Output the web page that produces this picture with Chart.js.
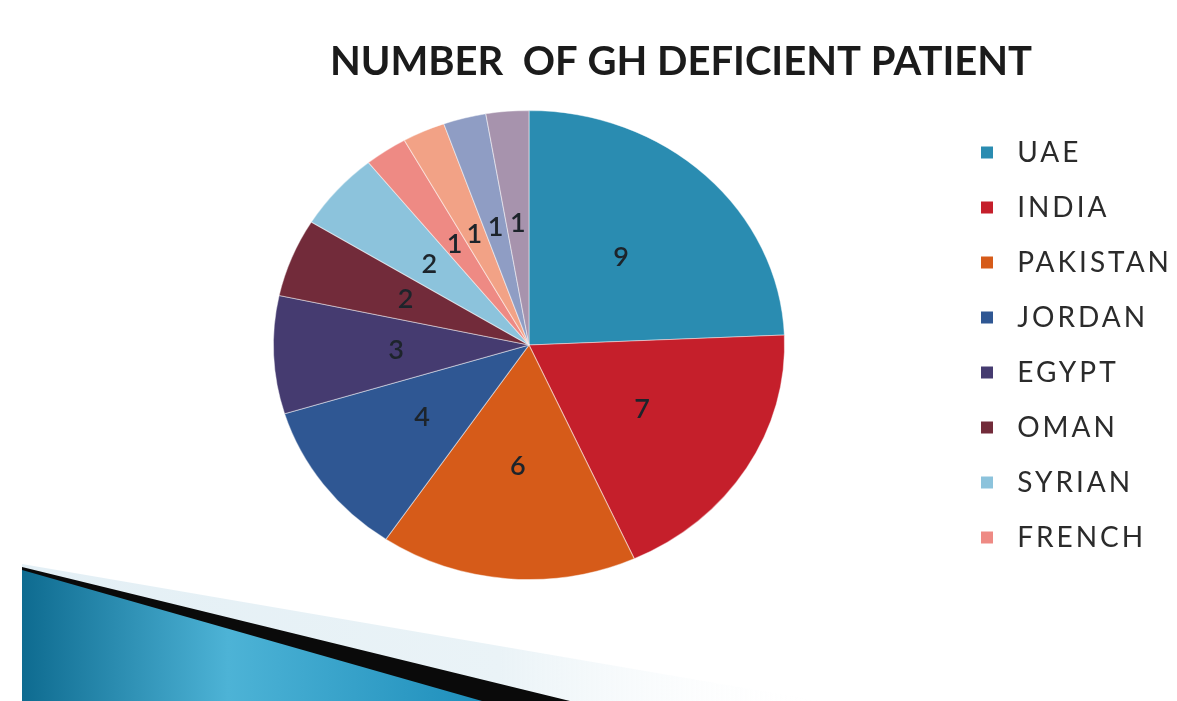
<!DOCTYPE html>
<html>
<head>
<meta charset="utf-8">
<script src="https://cdn.jsdelivr.net/npm/chart.js@4.4.1/dist/chart.umd.min.js"></script>
<style>
  html, body { margin: 0; background: #fff; }
  #wrap { width: 1177px; height: 701px; position: relative; }
</style>
</head>
<body>
<div id="wrap"><canvas id="c"></canvas></div>
<script>
// patients per nationality; the last three small slices have no legend entry
const COUNTRIES = ['UAE', 'INDIA', 'PAKISTAN', 'JORDAN', 'EGYPT', 'OMAN', 'SYRIAN', 'FRENCH', '', '', ''];
const PATIENTS = [9, 7, 6, 4, 3, 2, 2, 1, 1, 1, 1];
const COLORS = ['#2a8cb1', '#c51f2b', '#d65b19', '#2f5793', '#453b70', '#722b3a',
                '#8cc3dc', '#ee8a84', '#f2a286', '#8f9dc4', '#a793ad'];
const TITLE = 'NUMBER  OF GH DEFICIENT PATIENT';

const SX = 1.09;          // pie is drawn a little wider than tall
const LEGEND_TRACKING = '3px';

// slide background swoosh in the lower-left corner
const backdrop = {
  id: 'backdrop',
  beforeDraw(chart) {
    const { ctx } = chart;
    ctx.save();
    const pale = ctx.createLinearGradient(22, 0, 820, 0);
    pale.addColorStop(0, '#e3eff5');
    pale.addColorStop(0.6, '#eaf3f7');
    pale.addColorStop(1, 'rgba(255,255,255,0)');
    ctx.fillStyle = pale;
    ctx.beginPath();
    ctx.moveTo(22, 564); ctx.lineTo(820, 701); ctx.lineTo(22, 701); ctx.closePath();
    ctx.fill();

    ctx.fillStyle = '#0a0a0a';
    ctx.beginPath();
    ctx.moveTo(22, 567); ctx.lineTo(570, 701); ctx.lineTo(22, 701); ctx.closePath();
    ctx.fill();

    const blue = ctx.createLinearGradient(22, 0, 480, 0);
    blue.addColorStop(0, '#0e6b90');
    blue.addColorStop(0.45, '#4db3d6');
    blue.addColorStop(1, '#1f8fbc');
    ctx.fillStyle = blue;
    ctx.beginPath();
    ctx.moveTo(22, 570); ctx.lineTo(482, 701); ctx.lineTo(22, 701); ctx.closePath();
    ctx.fill();
    ctx.restore();
    ctx.letterSpacing = LEGEND_TRACKING;
  },
  beforeLayout(chart) { chart.ctx.letterSpacing = LEGEND_TRACKING; },
  afterDraw(chart) {
    const { ctx } = chart;
    ctx.save();
    ctx.letterSpacing = '0px';
    ctx.font = 'bold 40px Lato';
    ctx.fillStyle = '#1b1b1b';
    ctx.textAlign = 'center';
    ctx.textBaseline = 'middle';
    ctx.fillText(TITLE, 681, 62);
    ctx.restore();
  },
};

// stretch the pie horizontally and write the counts on the slices
const slices = {
  id: 'slices',
  beforeDatasetsDraw(chart) {
    const arc = chart.getDatasetMeta(0).data[0];
    const { ctx } = chart;
    ctx.save();
    ctx.translate(arc.x, arc.y);
    ctx.scale(SX, 1);
    ctx.translate(-arc.x, -arc.y);
  },
  afterDatasetsDraw(chart) {
    const { ctx } = chart;
    ctx.restore();
    ctx.save();
    ctx.letterSpacing = '0px';
    ctx.font = '600 27px Lato';
    ctx.fillStyle = '#1d242b';
    ctx.textAlign = 'center';
    ctx.textBaseline = 'middle';
    chart.getDatasetMeta(0).data.forEach((arc, i) => {
      const { x, y, startAngle, endAngle, outerRadius } =
        arc.getProps(['x', 'y', 'startAngle', 'endAngle', 'outerRadius'], true);
      const mid = (startAngle + endAngle) / 2;
      const r = outerRadius * 0.52;
      ctx.fillText(String(PATIENTS[i]), x + Math.cos(mid) * r * SX, y + Math.sin(mid) * r);
    });
    ctx.restore();
  },
};

const baseLegend = Chart.overrides.pie.plugins.legend.labels.generateLabels;

new Chart(document.getElementById('c'), {
  type: 'pie',
  data: {
    labels: COUNTRIES,
    datasets: [{
      data: PATIENTS,
      backgroundColor: COLORS,
      borderColor: 'rgba(255,255,255,0.45)',
      borderWidth: 1,
    }],
  },
  options: {
    responsive: true,
    maintainAspectRatio: false,
    animation: false,
    layout: { padding: { top: 110, bottom: 121, left: 104, right: -5 } },
    plugins: {
      title: { display: false },
      tooltip: { enabled: false },
      legend: {
        position: 'right',
        labels: {
          boxWidth: 12,
          boxHeight: 12,
          padding: 27,
          color: '#2b2b2b',
          font: { family: 'Lato', size: 28 },
          generateLabels: (chart) => baseLegend(chart).map((l) => ({
            ...l, text: ' ' + l.text, lineWidth: 0, strokeStyle: l.fillStyle,
          })),
          filter: (item) => item.text.trim() !== '',
        },
      },
    },
  },
  plugins: [backdrop, slices],
});
</script>
</body>
</html>
